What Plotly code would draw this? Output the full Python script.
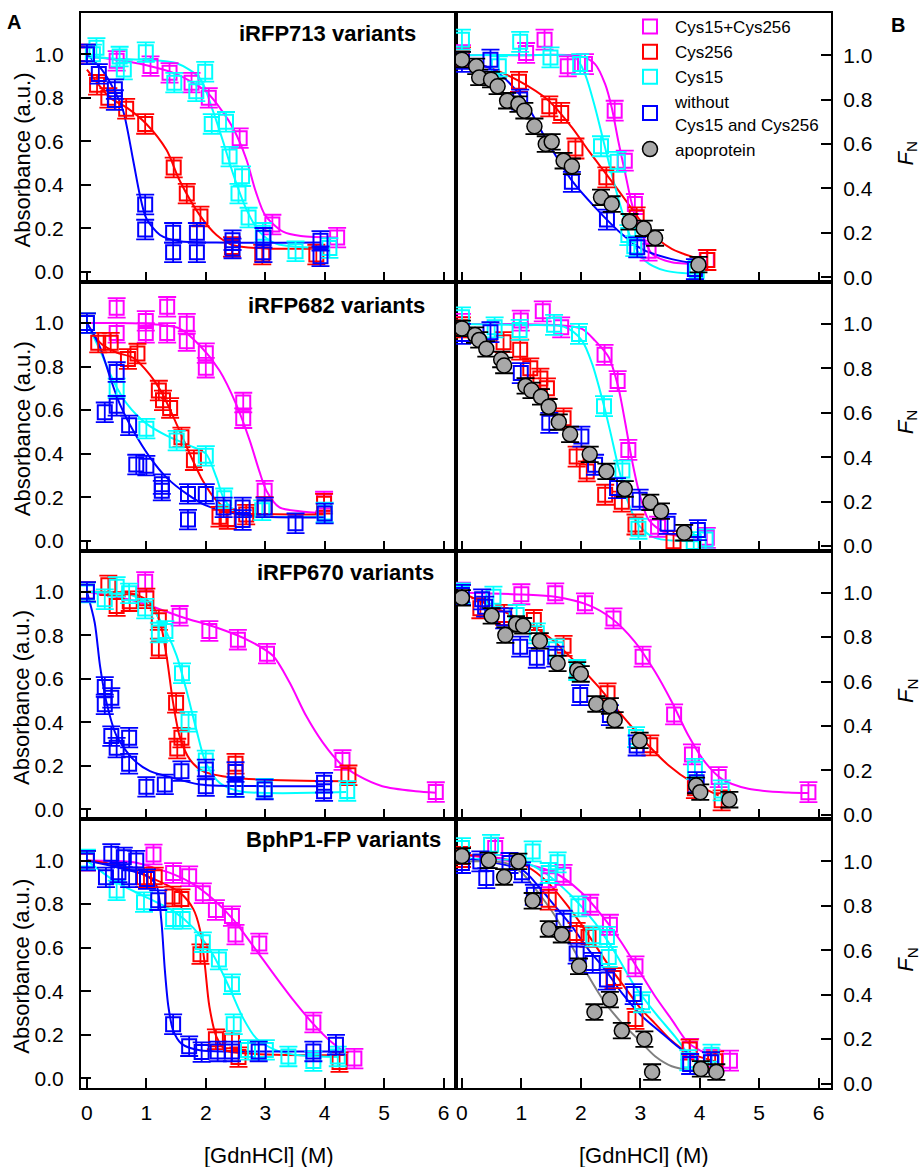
import plotly.graph_objects as go
from plotly.subplots import make_subplots

# ---------------- data ----------------
# Row 1, panel A (iRFP713 variants)
MAG_1A_X = [0.0, 0.5, 1.07, 1.39, 1.76, 2.05, 2.57, 3.12, 4.21]
MAG_1A_Y = [1.0, 0.97, 0.946, 0.915, 0.87, 0.80, 0.615, 0.218, 0.158]
MAG_1A_FX = [0, 0.5, 1.0, 1.5, 2.0, 2.3, 2.46, 2.68, 2.84, 3.0, 3.3, 3.6, 4.2]
MAG_1A_FY = [0.99, 0.975, 0.95, 0.91, 0.83, 0.73, 0.66, 0.52, 0.37, 0.26, 0.185, 0.165, 0.158]
RED_1A_X = [0.0, 0.17, 0.36, 0.66, 0.98, 1.46, 1.68, 1.91, 2.44, 2.95, 3.86]
RED_1A_Y = [1.0, 0.86, 0.80, 0.75, 0.68, 0.48, 0.36, 0.255, 0.115, 0.08, 0.08]
RED_1A_FX = [0, 0.2, 0.39, 0.67, 1.0, 1.34, 1.56, 1.9, 2.18, 2.46, 3.02, 3.86]
RED_1A_FY = [0.93, 0.86, 0.80, 0.755, 0.68, 0.56, 0.42, 0.26, 0.17, 0.123, 0.108, 0.108]
CYAN_1A_X = [0.1, 0.16, 0.55, 0.62, 0.99, 1.47, 1.84, 1.99, 2.1, 2.34, 2.4, 2.55, 2.61, 2.72, 2.96, 3.51, 4.08]
CYAN_1A_Y = [1.0, 1.03, 0.99, 0.93, 1.01, 0.87, 0.83, 0.92, 0.68, 0.69, 0.53, 0.36, 0.44, 0.25, 0.18, 0.095, 0.11]
CYAN_1A_FX = [0, 0.5, 1.0, 1.5, 1.9, 2.12, 2.29, 2.46, 2.68, 2.9, 3.18, 3.57, 4.08]
CYAN_1A_FY = [0.99, 0.98, 0.975, 0.96, 0.89, 0.74, 0.6, 0.45, 0.29, 0.185, 0.13, 0.115, 0.11]
BLUE_1A_X = [0.0, 0.2, 0.47, 0.47, 0.98, 0.98, 1.45, 1.45, 1.85, 1.85, 2.45, 2.45, 2.97, 2.97, 3.93, 3.93]
BLUE_1A_Y = [1.0, 0.91, 0.84, 0.79, 0.31, 0.195, 0.18, 0.09, 0.18, 0.09, 0.146, 0.108, 0.157, 0.09, 0.143, 0.072]
BLUE_1A_FX = [0, 0.25, 0.45, 0.61, 0.78, 0.89, 1.0, 1.23, 1.56, 2.18, 3.93]
BLUE_1A_FY = [1.0, 0.93, 0.84, 0.74, 0.51, 0.354, 0.246, 0.17, 0.141, 0.135, 0.135]

# Row 1, panel B
MAG_1B_X = [0.0, 1.08, 1.39, 1.78, 2.07, 2.57, 2.74, 2.91, 3.14, 4.12]
MAG_1B_Y = [1.0, 1.01, 1.07, 0.95, 0.96, 0.75, 0.525, 0.33, 0.12, 0.078]
MAG_1B_FX = [0, 1.0, 2.0, 2.24, 2.41, 2.52, 2.63, 2.75, 2.86, 3.03, 3.2, 3.53, 4.12]
MAG_1B_FY = [1.0, 1.0, 0.995, 0.96, 0.87, 0.765, 0.615, 0.465, 0.33, 0.195, 0.105, 0.068, 0.06]
RED_1B_X = [0.0, 0.96, 1.47, 1.67, 1.91, 2.43, 2.94, 4.13]
RED_1B_Y = [0.99, 0.88, 0.77, 0.74, 0.58, 0.45, 0.27, 0.078]
RED_1B_FX = [0, 0.45, 0.95, 1.46, 1.85, 2.13, 2.47, 2.8, 3.14, 3.53, 4.0]
RED_1B_FY = [0.975, 0.945, 0.885, 0.795, 0.675, 0.57, 0.45, 0.33, 0.21, 0.128, 0.082]
CYAN_1B_X = [0.0, 0.62, 0.98, 1.49, 1.99, 2.34, 2.62, 2.8, 2.9, 3.95]
CYAN_1B_Y = [1.07, 0.95, 1.06, 0.99, 0.96, 0.59, 0.52, 0.19, 0.14, 0.03]
CYAN_1B_FX = [0, 1.0, 1.9, 2.07, 2.24, 2.38, 2.52, 2.69, 2.86, 3.08, 3.42, 4.0]
CYAN_1B_FY = [1.0, 1.0, 0.99, 0.915, 0.765, 0.615, 0.465, 0.3, 0.165, 0.075, 0.03, 0.015]
BLUE_1B_X = [0.0, 0.48, 0.98, 1.85, 2.44, 2.95, 3.92]
BLUE_1B_Y = [0.97, 0.98, 0.80, 0.43, 0.26, 0.135, 0.037]
BLUE_1B_FX = [0, 0.56, 1.01, 1.46, 1.85, 2.24, 2.69, 3.03, 3.53, 4.0]
BLUE_1B_FY = [0.98, 0.93, 0.81, 0.6, 0.435, 0.315, 0.195, 0.127, 0.082, 0.06]
APO_1B_X = [0, 0.24, 0.29, 0.49, 0.6, 0.76, 0.95, 1.05, 1.22, 1.41, 1.51, 1.71, 1.85, 2.34, 2.52, 2.82, 3.06, 3.25, 3.98]
APO_1B_Y = [0.98, 0.95, 0.9, 0.89, 0.86, 0.795, 0.78, 0.75, 0.68, 0.6, 0.61, 0.525, 0.5, 0.36, 0.33, 0.25, 0.22, 0.177, 0.057]

# Row 2, panel A (iRFP682 variants)
MAG_2A_X = [0.5, 0.5, 0.99, 0.99, 1.35, 1.35, 1.68, 1.68, 2.0, 2.0, 2.63, 2.63, 2.99, 3.99]
MAG_2A_Y = [1.07, 0.955, 1.01, 0.955, 1.075, 0.955, 0.997, 0.917, 0.862, 0.795, 0.635, 0.563, 0.23, 0.18]
MAG_2A_FX = [0, 1.0, 1.56, 1.9, 2.23, 2.51, 2.74, 2.9, 3.02, 3.24, 3.58, 4.0]
MAG_2A_FY = [1.0, 0.997, 0.975, 0.897, 0.782, 0.628, 0.46, 0.32, 0.23, 0.153, 0.135, 0.126]
RED_2A_X = [0, 0.19, 0.4, 0.69, 0.85, 1.21, 1.28, 1.4, 1.59, 1.8, 2.23, 2.37, 2.68, 2.99, 3.99]
RED_2A_Y = [1.0, 0.91, 0.91, 0.835, 0.86, 0.69, 0.645, 0.61, 0.475, 0.37, 0.11, 0.10, 0.12, 0.155, 0.17]
RED_2A_FX = [0, 0.22, 0.5, 0.78, 1.06, 1.28, 1.51, 1.73, 1.95, 2.18, 2.46, 3.02, 4.0]
RED_2A_FY = [1.0, 0.91, 0.865, 0.84, 0.762, 0.67, 0.535, 0.4, 0.275, 0.184, 0.13, 0.123, 0.12]
CYAN_2A_X = [0, 0.5, 1.0, 1.51, 2.0, 2.31, 2.95, 4.0]
CYAN_2A_Y = [1.0, 0.70, 0.515, 0.46, 0.39, 0.195, 0.14, 0.13]
CYAN_2A_FX = [0, 0.22, 0.44, 0.67, 1.0, 1.34, 1.73, 2.0, 2.18, 2.31, 2.57, 3.02, 4.0]
CYAN_2A_FY = [1.0, 0.875, 0.737, 0.63, 0.538, 0.483, 0.437, 0.4, 0.29, 0.19, 0.118, 0.11, 0.11]
BLUE_2A_X = [0, 0.3, 0.5, 0.5, 0.71, 0.83, 1.0, 1.26, 1.26, 1.7, 1.7, 2.0, 2.3, 2.62, 2.62, 2.99, 3.51, 4.0]
BLUE_2A_Y = [1.0, 0.59, 0.775, 0.62, 0.53, 0.35, 0.345, 0.26, 0.23, 0.215, 0.097, 0.215, 0.153, 0.153, 0.095, 0.153, 0.08, 0.125]
BLUE_2A_FX = [0, 0.22, 0.39, 0.55, 0.78, 1.06, 1.34, 1.68, 2.0, 2.46, 3.02, 4.0]
BLUE_2A_FY = [1.0, 0.89, 0.75, 0.63, 0.505, 0.383, 0.29, 0.215, 0.162, 0.126, 0.11, 0.107]

# Row 2, panel B
MAG_2B_X = [0.0, 0.99, 1.36, 1.67, 2.4, 2.62, 2.8, 3.3, 4.12]
MAG_2B_Y = [1.0, 1.015, 1.057, 0.985, 0.861, 0.743, 0.433, 0.087, 0.037]
MAG_2B_FX = [0, 1.57, 2.02, 2.24, 2.47, 2.63, 2.75, 2.86, 2.97, 3.14, 3.42, 4.0]
MAG_2B_FY = [1.0, 0.995, 0.978, 0.925, 0.85, 0.716, 0.552, 0.388, 0.254, 0.119, 0.06, 0.037]
RED_2B_X = [0.0, 0.7, 0.98, 1.15, 1.32, 1.43, 1.71, 1.93, 2.1, 2.41, 2.69, 2.92, 3.56]
RED_2B_Y = [0.985, 0.918, 0.884, 0.8, 0.754, 0.71, 0.575, 0.403, 0.336, 0.231, 0.2, 0.097, 0.022]
CYAN_2B_X = [0.0, 0.55, 0.97, 1.55, 1.97, 2.39, 2.7, 2.97, 3.9, 4.1]
CYAN_2B_Y = [1.03, 0.985, 0.973, 0.996, 0.955, 0.63, 0.34, 0.078, 0.018, 0.03]
CYAN_2B_FX = [0, 1.0, 1.74, 2.02, 2.19, 2.35, 2.49, 2.63, 2.8, 2.97, 3.25, 4.0]
CYAN_2B_FY = [1.0, 0.995, 0.985, 0.925, 0.821, 0.672, 0.522, 0.358, 0.194, 0.097, 0.037, 0.022]
BLUE_2B_X = [0.0, 0.48, 0.99, 1.47, 2.01, 2.24, 2.61, 2.99, 3.46, 3.97]
BLUE_2B_Y = [0.955, 0.963, 0.779, 0.555, 0.493, 0.366, 0.261, 0.209, 0.1, 0.072]
APO_2B_X = [0, 0.22, 0.29, 0.41, 0.66, 0.71, 1.07, 1.17, 1.33, 1.46, 1.63, 1.82, 2.15, 2.43, 2.74, 3.17, 3.35, 3.74]
APO_2B_Y = [0.98, 0.95, 0.928, 0.888, 0.84, 0.813, 0.721, 0.701, 0.672, 0.627, 0.558, 0.503, 0.413, 0.336, 0.257, 0.197, 0.157, 0.06]

# Row 3, panel A (iRFP670 variants)
MAG_3A_X = [0.98, 1.56, 2.06, 2.54, 3.03, 4.3, 5.87]
MAG_3A_Y = [1.046, 0.89, 0.82, 0.78, 0.716, 0.227, 0.08]
MAG_3A_FX = [0, 0.78, 1.06, 1.62, 2.18, 2.74, 3.13, 3.41, 3.69, 3.97, 4.25, 4.58, 4.97, 5.53, 5.87]
MAG_3A_FY = [1.0, 0.96, 0.936, 0.882, 0.836, 0.774, 0.706, 0.583, 0.429, 0.307, 0.215, 0.153, 0.107, 0.084, 0.077]
RED_3A_X = [0, 0.36, 0.5, 0.72, 1.0, 1.21, 1.21, 1.5, 1.52, 1.59, 2.5, 4.4]
RED_3A_Y = [1.0, 1.03, 0.935, 0.957, 0.97, 0.87, 0.74, 0.49, 0.28, 0.33, 0.21, 0.157]
RED_3A_FX = [0, 0.78, 1.06, 1.23, 1.34, 1.45, 1.56, 1.73, 1.95, 2.46, 4.36]
RED_3A_FY = [1.0, 0.99, 0.95, 0.86, 0.705, 0.49, 0.337, 0.23, 0.176, 0.146, 0.13]
CYAN_3A_X = [0, 0.3, 0.5, 0.71, 0.98, 1.21, 1.32, 1.6, 1.71, 2.0, 2.5, 2.99, 4.38]
CYAN_3A_Y = [0.997, 0.966, 1.023, 0.993, 0.923, 0.813, 0.82, 0.626, 0.403, 0.225, 0.104, 0.095, 0.085]
CYAN_3A_FX = [0, 0.78, 1.11, 1.34, 1.51, 1.67, 1.84, 2.0, 2.23, 2.57, 4.36]
CYAN_3A_FY = [1.0, 0.982, 0.92, 0.813, 0.706, 0.552, 0.368, 0.215, 0.123, 0.084, 0.08]
BLUE_3A_X = [0, 0.3, 0.3, 0.41, 0.41, 0.5, 0.71, 0.71, 1.0, 1.31, 1.59, 2.0, 2.0, 2.5, 2.5, 2.99, 3.99, 3.99]
BLUE_3A_Y = [1.0, 0.563, 0.483, 0.513, 0.337, 0.284, 0.33, 0.21, 0.104, 0.115, 0.176, 0.184, 0.107, 0.172, 0.103, 0.092, 0.123, 0.084]
BLUE_3A_FX = [0, 0.13, 0.22, 0.33, 0.5, 0.78, 1.06, 1.34, 1.9, 3.02, 4.0]
BLUE_3A_FY = [1.0, 0.859, 0.66, 0.491, 0.337, 0.23, 0.176, 0.153, 0.115, 0.107, 0.107]

# Row 3, panel B
MAG_3B_X = [0.0, 1.0, 1.57, 2.07, 2.55, 3.04, 3.57, 3.87, 4.32, 5.83]
MAG_3B_Y = [1.0, 0.993, 0.997, 0.952, 0.884, 0.712, 0.452, 0.272, 0.17, 0.102]
MAG_3B_FX = [0, 1.01, 1.57, 2.13, 2.52, 2.91, 3.25, 3.53, 3.81, 4.09, 4.37, 4.82, 5.49, 5.83]
MAG_3B_FY = [1.0, 0.992, 0.982, 0.944, 0.884, 0.779, 0.644, 0.509, 0.357, 0.237, 0.162, 0.117, 0.1, 0.098]
RED_3B_X = [0, 0.31, 0.71, 1.21, 1.71, 2.45, 3.17, 3.92, 4.37]
RED_3B_Y = [0.99, 0.93, 0.9, 0.877, 0.761, 0.547, 0.313, 0.12, 0.065]
RED_3B_FX = [0, 0.45, 1.01, 1.46, 1.85, 2.3, 2.69, 3.08, 3.48, 3.87, 4.32]
RED_3B_FY = [1.0, 0.944, 0.877, 0.802, 0.704, 0.576, 0.449, 0.329, 0.222, 0.147, 0.087]
CYAN_3B_X = [0, 0.53, 0.92, 1.26, 1.58, 1.94, 2.93, 3.92, 4.37]
CYAN_3B_Y = [0.997, 0.982, 0.9, 0.817, 0.745, 0.652, 0.35, 0.207, 0.11]
BLUE_3B_X = [0, 0.34, 0.39, 0.71, 0.98, 1.26, 1.57, 1.99, 2.49, 2.94, 3.95]
BLUE_3B_Y = [0.99, 0.97, 0.937, 0.884, 0.757, 0.707, 0.712, 0.539, 0.449, 0.312, 0.147]
APO_3B_X = [0, 0.5, 0.73, 0.91, 1.03, 1.31, 1.61, 1.94, 2.0, 2.26, 2.49, 2.57, 2.99, 3.94, 4.01, 4.5]
APO_3B_Y = [0.977, 0.896, 0.809, 0.859, 0.851, 0.783, 0.682, 0.652, 0.634, 0.499, 0.49, 0.427, 0.335, 0.132, 0.102, 0.068]

# Row 4, panel A (BphP1-FP variants)
MAG_4A_X = [0, 1.12, 1.45, 1.72, 1.95, 2.17, 2.44, 2.5, 2.9, 3.81, 4.5]
MAG_4A_Y = [1.0, 1.028, 0.943, 0.928, 0.85, 0.773, 0.745, 0.66, 0.619, 0.256, 0.09]
MAG_4A_FX = [0, 0.78, 1.11, 1.45, 1.79, 2.12, 2.46, 2.8, 3.13, 3.47, 3.8, 4.08, 4.36]
MAG_4A_FY = [1.0, 0.992, 0.969, 0.938, 0.892, 0.823, 0.73, 0.606, 0.483, 0.36, 0.252, 0.174, 0.113]
RED_4A_X = [0, 0.96, 1.14, 1.44, 1.59, 1.91, 2.17, 2.44, 2.55, 4.25]
RED_4A_Y = [1.0, 0.923, 0.923, 0.835, 0.823, 0.57, 0.179, 0.17, 0.097, 0.074]
RED_4A_FX = [0, 0.39, 1.06, 1.56, 1.79, 1.9, 1.98, 2.06, 2.18, 2.34, 2.74, 4.25]
RED_4A_FY = [1.0, 0.985, 0.923, 0.854, 0.777, 0.685, 0.53, 0.33, 0.19, 0.128, 0.113, 0.105]
CYAN_4A_X = [0, 0.5, 0.96, 1.45, 1.61, 1.95, 2.22, 2.44, 2.47, 2.71, 3.01, 3.39, 3.81, 4.22]
CYAN_4A_Y = [1.005, 0.863, 0.809, 0.732, 0.732, 0.625, 0.545, 0.432, 0.248, 0.13, 0.13, 0.1, 0.079, 0.1]
CYAN_4A_FX = [0, 0.5, 0.95, 1.45, 1.79, 2.12, 2.4, 2.63, 2.85, 3.19, 3.58, 4.25]
CYAN_4A_FY = [1.0, 0.9, 0.838, 0.769, 0.691, 0.568, 0.414, 0.275, 0.183, 0.128, 0.105, 0.097]
BLUE_4A_X = [0, 0.32, 0.41, 0.53, 0.62, 0.71, 0.83, 1.01, 1.2, 1.45, 1.72, 1.93, 2.2, 2.44, 2.89, 3.81, 4.19]
BLUE_4A_Y = [1.0, 0.923, 1.031, 0.946, 1.015, 0.923, 1.0, 0.915, 0.818, 0.248, 0.147, 0.12, 0.123, 0.123, 0.123, 0.123, 0.154]
BLUE_4A_FX = [0, 0.5, 1.0, 1.17, 1.25, 1.31, 1.37, 1.45, 1.59, 1.9, 2.46, 4.19]
BLUE_4A_FY = [1.0, 0.969, 0.931, 0.885, 0.73, 0.5, 0.33, 0.22, 0.159, 0.128, 0.123, 0.123]

# Row 4, panel B
MAG_4B_X = [0.56, 1.46, 1.71, 2.16, 2.49, 2.92, 3.84, 4.2, 4.51]
MAG_4B_Y = [1.06, 0.915, 0.94, 0.805, 0.715, 0.528, 0.156, 0.108, 0.103]
MAG_4B_FX = [0, 1.01, 1.57, 2.02, 2.41, 2.69, 2.97, 3.25, 3.53, 3.81, 4.15]
MAG_4B_FY = [1.03, 0.992, 0.948, 0.858, 0.738, 0.633, 0.513, 0.393, 0.288, 0.183, 0.13]
RED_4B_X = [0, 1.46, 1.93, 2.13, 2.55, 2.92, 3.83, 4.26]
RED_4B_Y = [1.02, 0.828, 0.678, 0.66, 0.475, 0.291, 0.153, 0.1]
RED_4B_FX = [0, 0.5, 1.0, 1.25, 1.5, 1.75, 2.0, 2.25, 2.5, 2.75, 3.0, 3.25, 3.5, 3.8, 4.26]
RED_4B_FY = [1.03, 1.02, 0.99, 0.95, 0.89, 0.81, 0.72, 0.62, 0.52, 0.43, 0.34, 0.27, 0.2, 0.14, 0.1]
CYAN_4B_X = [0, 0.49, 1.19, 1.46, 1.61, 1.96, 2.21, 2.44, 2.47, 3.03, 3.81, 4.2]
CYAN_4B_Y = [1.06, 1.075, 1.045, 0.948, 0.996, 0.798, 0.663, 0.66, 0.57, 0.366, 0.105, 0.13]
CYAN_4B_FX = [0, 1.01, 1.4, 1.85, 2.24, 2.58, 2.91, 3.25, 3.59, 3.81]
CYAN_4B_FY = [1.01, 1.0, 0.948, 0.843, 0.723, 0.588, 0.438, 0.318, 0.21, 0.13]
BLUE_4B_X = [0, 0.31, 0.41, 0.8, 1.01, 1.21, 1.71, 1.93, 2.2, 2.44, 2.89, 3.84, 4.19]
BLUE_4B_Y = [0.993, 1.0, 0.925, 0.993, 0.951, 0.85, 0.733, 0.585, 0.543, 0.468, 0.403, 0.088, 0.096]
BLUE_4B_FX = [0, 1.01, 1.29, 1.57, 1.85, 2.13, 2.41, 2.69, 3.03, 3.36, 3.7, 3.98]
BLUE_4B_FY = [1.015, 0.962, 0.887, 0.798, 0.708, 0.603, 0.513, 0.408, 0.303, 0.228, 0.153, 0.123]
APO_4B_X = [0, 0.45, 0.71, 0.95, 1.19, 1.46, 1.68, 1.97, 2.23, 2.49, 2.69, 3.07, 3.2, 4.02, 4.28]
APO_4B_Y = [1.025, 1.005, 0.93, 1.0, 0.823, 0.696, 0.67, 0.528, 0.322, 0.378, 0.238, 0.2, 0.052, 0.066, 0.052]
APO_4B_FX = [0, 0.73, 1.01, 1.29, 1.57, 1.85, 2.13, 2.41, 2.69, 2.97, 3.25, 3.53, 3.81, 4.04]
APO_4B_FY = [1.0, 0.993, 0.948, 0.858, 0.753, 0.618, 0.483, 0.363, 0.273, 0.198, 0.123, 0.078, 0.063, 0.063]

# error bar half-widths (a.u.)
ERR_SQUARE = 0.045
ERR_APO = 0.035

SERIES_NAMES = ["Cys15+Cys256", "Cys256", "Cys15", "without<br>Cys15 and Cys256", "apoprotein"]
PANEL_TITLES = ["iRFP713 variants", "iRFP682 variants", "iRFP670 variants", "BphP1-FP variants"]
X_TICKS = [0, 1, 2, 3, 4, 5, 6]
Y_TICKS = [0.0, 0.2, 0.4, 0.6, 0.8, 1.0]

# ---------------- assembly ----------------
COLORS = ["#ff00ff", "#ff0000", "#00ffff", "#0000ff", "#a8a8a8"]
FIT_COLORS = ["#ff00ff", "#ff0000", "#00ffff", "#0000ff", "#808080"]
FONT = "Liberation Sans, Arial, sans-serif"

panels = {
    (1, 1): [(MAG_1A_X, MAG_1A_Y, MAG_1A_FX, MAG_1A_FY), (RED_1A_X, RED_1A_Y, RED_1A_FX, RED_1A_FY),
             (CYAN_1A_X, CYAN_1A_Y, CYAN_1A_FX, CYAN_1A_FY), (BLUE_1A_X, BLUE_1A_Y, BLUE_1A_FX, BLUE_1A_FY), None],
    (1, 2): [(MAG_1B_X, MAG_1B_Y, MAG_1B_FX, MAG_1B_FY), (RED_1B_X, RED_1B_Y, RED_1B_FX, RED_1B_FY),
             (CYAN_1B_X, CYAN_1B_Y, CYAN_1B_FX, CYAN_1B_FY), (BLUE_1B_X, BLUE_1B_Y, BLUE_1B_FX, BLUE_1B_FY),
             (APO_1B_X, APO_1B_Y, None, None)],
    (2, 1): [(MAG_2A_X, MAG_2A_Y, MAG_2A_FX, MAG_2A_FY), (RED_2A_X, RED_2A_Y, RED_2A_FX, RED_2A_FY),
             (CYAN_2A_X, CYAN_2A_Y, CYAN_2A_FX, CYAN_2A_FY), (BLUE_2A_X, BLUE_2A_Y, BLUE_2A_FX, BLUE_2A_FY), None],
    (2, 2): [(MAG_2B_X, MAG_2B_Y, MAG_2B_FX, MAG_2B_FY), (RED_2B_X, RED_2B_Y, None, None),
             (CYAN_2B_X, CYAN_2B_Y, CYAN_2B_FX, CYAN_2B_FY), (BLUE_2B_X, BLUE_2B_Y, None, None),
             (APO_2B_X, APO_2B_Y, None, None)],
    (3, 1): [(MAG_3A_X, MAG_3A_Y, MAG_3A_FX, MAG_3A_FY), (RED_3A_X, RED_3A_Y, RED_3A_FX, RED_3A_FY),
             (CYAN_3A_X, CYAN_3A_Y, CYAN_3A_FX, CYAN_3A_FY), (BLUE_3A_X, BLUE_3A_Y, BLUE_3A_FX, BLUE_3A_FY), None],
    (3, 2): [(MAG_3B_X, MAG_3B_Y, MAG_3B_FX, MAG_3B_FY), (RED_3B_X, RED_3B_Y, RED_3B_FX, RED_3B_FY),
             (CYAN_3B_X, CYAN_3B_Y, None, None), (BLUE_3B_X, BLUE_3B_Y, None, None),
             (APO_3B_X, APO_3B_Y, None, None)],
    (4, 1): [(MAG_4A_X, MAG_4A_Y, MAG_4A_FX, MAG_4A_FY), (RED_4A_X, RED_4A_Y, RED_4A_FX, RED_4A_FY),
             (CYAN_4A_X, CYAN_4A_Y, CYAN_4A_FX, CYAN_4A_FY), (BLUE_4A_X, BLUE_4A_Y, BLUE_4A_FX, BLUE_4A_FY), None],
    (4, 2): [(MAG_4B_X, MAG_4B_Y, MAG_4B_FX, MAG_4B_FY), (RED_4B_X, RED_4B_Y, RED_4B_FX, RED_4B_FY),
             (CYAN_4B_X, CYAN_4B_Y, CYAN_4B_FX, CYAN_4B_FY), (BLUE_4B_X, BLUE_4B_Y, BLUE_4B_FX, BLUE_4B_FY),
             (APO_4B_X, APO_4B_Y, APO_4B_FX, APO_4B_FY)],
}

fig = make_subplots(rows=4, cols=2, horizontal_spacing=0, vertical_spacing=0)

# fit lines first (underneath)
for (r, c), series in panels.items():
    for i, s in enumerate(series):
        if s is None or s[2] is None:
            continue
        fig.add_trace(go.Scatter(x=s[2], y=s[3], mode="lines",
                                 line=dict(color=FIT_COLORS[i], width=2, shape="spline", smoothing=0.8),
                                 showlegend=False, hoverinfo="skip"), row=r, col=c)

# data points
legend_done = set()
for (r, c), series in panels.items():
    for i, s in enumerate(series):
        if s is None:
            continue
        show = (r, c) == (1, 2) and i not in legend_done
        if show:
            legend_done.add(i)
        if i == 4:
            marker = dict(symbol="circle", size=15, color=COLORS[4], line=dict(color="black", width=1.5))
            err = dict(type="constant", value=ERR_APO, color="black", thickness=1.8, width=9)
        else:
            marker = dict(symbol="square-open", size=14, color=COLORS[i], line=dict(color=COLORS[i], width=2))
            err = dict(type="constant", value=ERR_SQUARE, color=COLORS[i], thickness=1.8, width=9)
        fig.add_trace(go.Scatter(x=s[0], y=s[1], mode="markers", marker=marker, error_y=err,
                                 name=SERIES_NAMES[i], legendgroup=str(i), showlegend=show),
                      row=r, col=c)

# axes
for r in range(1, 5):
    for c in (1, 2):
        fig.update_xaxes(row=r, col=c, range=[-0.1, 6.21], tickvals=X_TICKS, ticks="inside", ticklen=10,
                         tickwidth=1.8, tickcolor="black", showline=True, mirror=True, linecolor="black",
                         linewidth=2, showgrid=False, zeroline=False, showticklabels=(r == 4),
                         tickfont=dict(size=21, color="black", family=FONT), ticklabelstandoff=5)
        if c == 1:
            fig.update_yaxes(row=r, col=c, range=[-0.045, 1.19], side="left", ticklabelstandoff=11)
        else:
            fig.update_yaxes(row=r, col=c, range=[-0.02, 1.19], side="right", ticklabelstandoff=6)
        fig.update_yaxes(row=r, col=c, tickvals=Y_TICKS, tickformat=".1f", ticks="inside", ticklen=10,
                         tickwidth=1.8, tickcolor="black", showline=True, mirror=True, linecolor="black",
                         linewidth=2, showgrid=False, zeroline=False,
                         tickfont=dict(size=21, color="black", family=FONT))

L, R, T, B = 81, 91, 13, 79
W, H = 922, 1167
PH = H - T - B
PW = W - L - R

annotations = []
title_x = [5.57, 5.72, 5.87, 5.99]
title_y = [1.098, 1.081, 1.087, 1.095]
for r in range(4):
    axn = 2 * r + 1
    xr = "x" if axn == 1 else f"x{axn}"
    yr = "y" if axn == 1 else f"y{axn}"
    annotations.append(dict(x=title_x[r], y=title_y[r], xref=xr, yref=yr, text=f"<b>{PANEL_TITLES[r]}</b>",
                            showarrow=False, xanchor="right", yanchor="middle",
                            font=dict(size=22, color="black", family=FONT)))
    row_center = 1 - (r + 0.5) / 4
    annotations.append(dict(x=-(L - 22) / PW, y=row_center - 13 / PH, xref="paper", yref="paper",
                            text="Absorbance (a.u.)", textangle=-90, showarrow=False,
                            xanchor="center", yanchor="middle", font=dict(size=22, color="black", family=FONT)))
    annotations.append(dict(x=(907 - L) / PW, y=row_center - 6 / PH, xref="paper", yref="paper",
                            text="<i>F</i><sub>N</sub>", textangle=-90, showarrow=False,
                            xanchor="center", yanchor="middle", font=dict(size=22, color="black", family=FONT)))

for xc in (0.25, 0.75):
    annotations.append(dict(x=xc, y=-(1155 - (H - B)) / PH, xref="paper", yref="paper", text="[GdnHCl] (M)",
                            showarrow=False, xanchor="center", yanchor="middle",
                            font=dict(size=22, color="black", family=FONT)))
annotations.append(dict(x=(14 - L) / PW, y=((H - B) - 22) / PH, xref="paper", yref="paper", text="<b>A</b>",
                        showarrow=False, xanchor="center", yanchor="middle",
                        font=dict(size=20, color="black", family=FONT)))
annotations.append(dict(x=(898 - L) / PW, y=((H - B) - 25) / PH, xref="paper", yref="paper", text="<b>B</b>",
                        showarrow=False, xanchor="center", yanchor="middle",
                        font=dict(size=20, color="black", family=FONT)))

fig.update_layout(
    width=W, height=H,
    margin=dict(l=L, r=R, t=T, b=B, autoexpand=False),
    paper_bgcolor="white", plot_bgcolor="white",
    font=dict(family=FONT, color="black"),
    annotations=annotations,
    legend=dict(x=(625 - L) / PW, y=1.0 + 4 / PH, xanchor="left", yanchor="top", bgcolor="rgba(0,0,0,0)",
                font=dict(size=17, color="black", family=FONT), tracegroupgap=0, itemwidth=40),
    showlegend=True,
)

# remove the browser's default body margin so the 922x1167 figure fills the window exactly
fig.write_html("out.html", config={"displayModeBar": False},
               post_script="document.body.style.margin='0';document.body.style.overflow='hidden';")
